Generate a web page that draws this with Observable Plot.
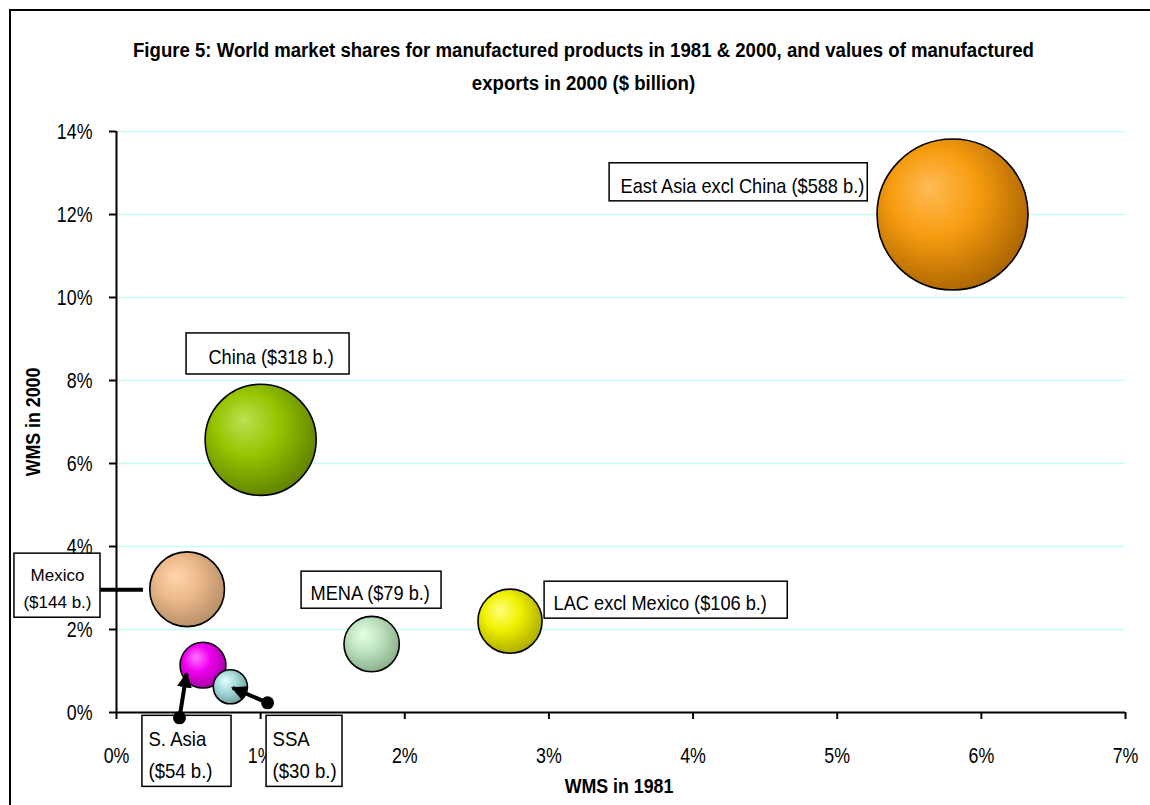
<!DOCTYPE html>
<html>
<head>
<meta charset="utf-8">
<script src="https://cdn.jsdelivr.net/npm/d3@7"></script>
<script src="https://cdn.jsdelivr.net/npm/@observablehq/plot@0.6"></script>
<style>
  html, body { margin: 0; padding: 0; background: #fff; }
  #page { position: relative; width: 1150px; height: 805px; overflow: hidden; }
  #frame { position: absolute; left: 9px; top: 9px; width: 1300px; height: 1000px;
           border-left: 2px solid #000; border-top: 2px solid #000; pointer-events: none; }
  #title { height: 110px; box-sizing: border-box; padding-top: 34px; width: 1167px;
           text-align: center; color: #000; white-space: nowrap;
           font: bold 20px/33px "Liberation Sans", Arial, sans-serif;
           transform: scaleX(0.93); transform-origin: 583.5px 0; }
  #chart svg { display: block; }
</style>
</head>
<body>
<div id="page">
  <div id="title">Figure 5: World market shares for manufactured products in 1981 &amp; 2000, and values of manufactured<br>exports in 2000 ($ billion)</div>
  <div id="chart"></div>
  <div id="frame"></div>
</div>
<script>
// World market share (%) of manufactured products, and 2000 export values ($ billion)
const regions     = ["East Asia excl China", "China", "Mexico", "LAC excl Mexico", "MENA", "S. Asia", "SSA"];
const wms1981     = [5.8, 1.0, 0.49, 2.73, 1.77, 0.6, 0.79];
const wms2000     = [12.0, 6.57, 2.97, 2.2, 1.65, 1.14, 0.62];
const exports2000 = [588, 318, 144, 106, 79, 54, 30];

const xTicks = [0, 1, 2, 3, 4, 5, 6, 7];
const yTicks = [0, 2, 4, 6, 8, 10, 12, 14];
const xTitle = "WMS in 1981";
const yTitle = "WMS in 2000";

// bubble shading per region: highlight, body, rim
const shades = [
  ["#ffbb55", "#f79c10", "#a86300"],
  ["#bde052", "#96c400", "#5f7f00"],
  ["#ffd6ad", "#ecb98a", "#b48d68"],
  ["#ffff80", "#f0f000", "#a8a800"],
  ["#e4ffe4", "#bfe4bf", "#88ad88"],
  ["#ff77ff", "#f000f0", "#a000a0"],
  ["#e6ffff", "#a9dcdc", "#6f9d9d"]
];

// callout boxes, in chart units; squeeze = horizontal condensing of the text
const labelLayout = [
  {x1: 3.421, x2: 5.212, y1: 12.317, y2: 13.234, align: "start",  dx: 11, sep: " ",  size: 20, squeeze: 0.91},
  {x1: 0.486, x2: 1.617, y1: 8.145,  y2: 9.134,  align: "middle", dx: 3,  sep: " ",  size: 20, squeeze: 0.91},
  {x1: -0.708, x2: -0.111, y1: 2.284, y2: 3.828, align: "middle", dx: 0,  sep: "\n", size: 17, squeeze: 1},
  {x1: 2.970, x2: 4.657, y1: 2.262,  y2: 3.152,  align: "start",  dx: 9,  sep: " ",  size: 20, squeeze: 0.91},
  {x1: 1.284, x2: 2.255, y1: 2.501,  y2: 3.394,  align: "start",  dx: 9,  sep: " ",  size: 20, squeeze: 0.91},
  {x1: 0.180, x2: 0.798, y1: -1.792, y2: -0.080, align: "start",  dx: 6,  sep: "\n", size: 20, squeeze: 0.93},
  {x1: 1.041, x2: 1.568, y1: -1.792, y2: -0.080, align: "start",  dx: 6,  sep: "\n", size: 20, squeeze: 0.93}
];

// leader lines from callouts to bubbles, in chart units
const leader = {x1: -0.111, x2: 0.187, y: 2.96};
const arrows = [
  {x1: 0.437, y1: -0.128, x2: 0.486, y2: 0.934},
  {x1: 1.048, y1: 0.234,  x2: 0.805, y2: 0.596}
];

const bubbles = regions.map((name, i) => ({
  name, i, x: wms1981[i], y: wms2000[i], value: exports2000[i]
}));

const labels = labelLayout.map((d, i) => ({
  ...d,
  text: `${regions[i]}${d.sep}($${exports2000[i]} b.)`
}));

const pct = d => `${d}%`;
const sans = '"Liberation Sans", Arial, sans-serif';

const svg = Plot.plot({
  width: 1150,
  height: 695,
  marginLeft: 116,
  marginRight: 25,
  marginTop: 21,
  marginBottom: 93,
  x: {domain: [0, 7]},
  y: {domain: [0, 14]},
  r: {type: "sqrt", domain: [0, 588], range: [0, 75.5]},
  color: {type: "identity"},
  style: {fontFamily: sans, fontSize: "22px", background: "transparent", overflow: "visible", color: "#000"},
  marks: [
    Plot.gridY(yTicks.slice(1), {stroke: "#c8fafa", strokeOpacity: 1, strokeWidth: 1.5}),
    Plot.axisY({ticks: yTicks, tickSize: 7, tickPadding: 17, tickFormat: pct, label: null, strokeWidth: 2}),
    Plot.axisX({ticks: xTicks, tickSize: 7, tickPadding: 28, tickFormat: pct, label: null, strokeWidth: 2}),
    Plot.ruleX([0], {y1: 0, y2: 14, strokeWidth: 2}),
    Plot.ruleY([0], {x1: 0, x2: 7, strokeWidth: 2}),
    Plot.dot(bubbles, {
      x: "x", y: "y", r: "value",
      fill: d => `url(#bubble-${d.i})`,
      stroke: "#000", strokeWidth: 1.6
    }),
    Plot.rect(labels, {x1: "x1", x2: "x2", y1: "y1", y2: "y2", fill: "#fff", stroke: "#000", strokeWidth: 1.5}),
    ...labels.map(d => Plot.text([d], {
      x: d.align === "start" ? d.x1 : (d.x1 + d.x2) / 2,
      y: (d.y1 + d.y2) / 2,
      text: "text",
      dx: d.dx,
      textAnchor: d.align,
      lineAnchor: "middle",
      lineHeight: 1.6,
      fontSize: d.size,
      fill: "#000"
    })),
    Plot.ruleY([leader], {y: "y", x1: "x1", x2: "x2", stroke: "#000", strokeWidth: 4}),
    Plot.link(arrows, {x1: "x1", y1: "y1", x2: "x2", y2: "y2", stroke: "#000", strokeWidth: 4}),
    Plot.dot(arrows, {x: "x1", y: "y1", r: 6.5, fill: "#000"}),
    Plot.text([yTitle], {text: d => d, frameAnchor: "left", dx: -83, rotate: -90,
      textAnchor: "middle", lineAnchor: "middle", fontWeight: "bold", fontSize: 20, fill: "#000"}),
    Plot.text([xTitle], {text: d => d, frameAnchor: "bottom", dx: -2, dy: 74,
      textAnchor: "middle", lineAnchor: "middle", fontWeight: "bold", fontSize: 20, fill: "#000"})
  ]
});

// radial shading for the bubbles and a solid arrowhead for the leaders
const defs = d3.select(svg).insert("defs", ":first-child");
shades.forEach((s, i) => {
  const g = defs.append("radialGradient").attr("id", `bubble-${i}`)
    .attr("cx", "42%").attr("cy", "40%").attr("r", "64%")
    .attr("fx", "34%").attr("fy", "32%");
  g.append("stop").attr("offset", "0%").attr("stop-color", s[0]);
  g.append("stop").attr("offset", "45%").attr("stop-color", s[1]);
  g.append("stop").attr("offset", "100%").attr("stop-color", s[2]);
});
const marker = defs.append("marker").attr("id", "arrowhead")
  .attr("viewBox", "0 0 10 10").attr("refX", 9).attr("refY", 5)
  .attr("markerWidth", 3.8).attr("markerHeight", 3.8)
  .attr("markerUnits", "strokeWidth").attr("orient", "auto");
marker.append("path").attr("d", "M0,0L10,5L0,10Z").attr("fill", "#000");
svg.querySelectorAll('g[aria-label="link"] path').forEach(p => p.setAttribute("marker-end", "url(#arrowhead)"));

// condensed lettering: squeeze each text along its own baseline
function squeeze(text, k) {
  if (k === 1) return;
  const t = text.getAttribute("transform") || "";
  text.setAttribute("transform", `${t} scale(${k},1)`);
}
svg.querySelectorAll("text").forEach(text => {
  const s = text.textContent;
  if (/^\d+%$/.test(s)) squeeze(text, 0.81);
  else if (s === xTitle || s === yTitle) squeeze(text, 0.89);
  else {
    const i = regions.findIndex(r => s.startsWith(r));
    if (i >= 0) squeeze(text, labels[i].squeeze);
  }
});

document.getElementById("chart").appendChild(svg);
</script>
</body>
</html>
